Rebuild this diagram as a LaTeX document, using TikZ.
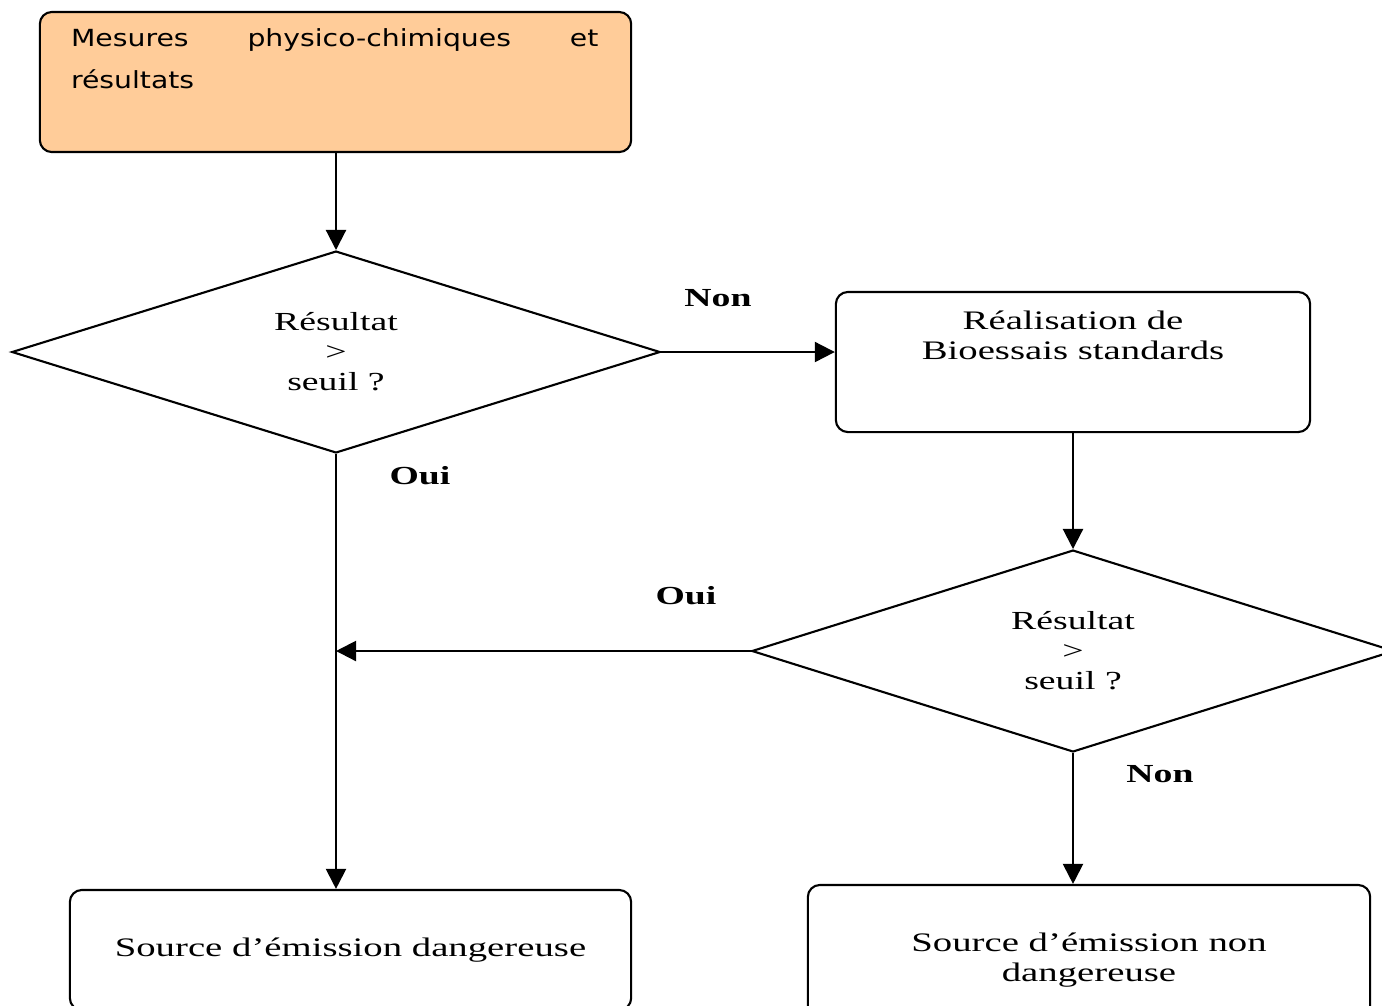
\documentclass[tikz,border=0pt]{standalone}
\usepackage{fontspec}
\usepackage{xcolor}
\usepackage{tikz}
\usetikzlibrary{shapes.geometric,arrows.meta}
\setmainfont{Liberation Serif}[FakeStretch=1.45]
\newfontfamily\boxsans{DejaVu Sans}[FakeStretch=1.2]
\definecolor{peach}{RGB}{255,204,153}

\begin{document}
\begin{tikzpicture}[x=0.01cm, y=-0.01cm, line width=0.6pt,
    >={Triangle[length=0.2cm,width=0.2cm]},
    box/.style={draw, rounded corners=0.12cm, inner sep=0pt},
    test/.style={draw, diamond, inner sep=0pt, align=center, font=\fontsize{7.4}{8.5}\selectfont},
    txt/.style={align=center, inner sep=0pt, font=\fontsize{7.6}{8.6}\selectfont},
    lbl/.style={font=\fontsize{7.4}{9}\selectfont\bfseries}]
    \clip (0,0) rectangle (1382,1005);
    % boxes
    \node[box, fill=peach, minimum width=5.91cm, minimum height=1.4cm] (mesures) at (335.5,82) {};
    \node[anchor=north west, inner sep=0pt, text width=5.27cm,
          font=\boxsans\fontsize{6.7}{11.8}\selectfont] (mesurestxt) at (70,28)
          {Mesures \hfill physico-chimiques \hfill et\\ résultats};
    \node[box, minimum width=4.74cm, minimum height=1.4cm] (bio) at (1073,362) {};
    \node[txt] (biotxt) at (1073,335) {Réalisation de\\Bioessais standards};
    \node[box, minimum width=5.61cm, minimum height=1.2cm, txt] (danger) at (350.5,950) {Source d'émission dangereuse};
    \node[box, minimum width=5.62cm, minimum height=1.5cm, txt] (safe) at (1089,960) {Source d'émission non\\dangereuse};
    % tests
    \node[test, minimum width=6.48cm, minimum height=2cm] (d1) at (336,352) {Résultat\\>\\seuil ?};
    \node[test, minimum width=6.42cm, minimum height=1.98cm] (d2) at (1073,651) {Résultat\\>\\seuil ?};
    % arrows
    \draw[->] (mesures.south -| d1.north) -- (d1.north);
    \draw[->] (d1.east) -- (d1.east -| bio.west);
    \draw[->] (bio.south) -- (d2.north);
    \draw[->] (d1.south) -- (d1.south |- danger.north);
    \draw[->] (d2.west) -- (d2.west -| d1.south);
    \draw[->] (d2.south) -- (d2.south |- safe.north);
    % labels
    \node[lbl] (non1) at (718,298) {Non};
    \node[lbl] (oui1) at (420,476) {Oui};
    \node[lbl] (oui2) at (686,596) {Oui};
    \node[lbl] (non2) at (1160,774) {Non};
\end{tikzpicture}
\end{document}
